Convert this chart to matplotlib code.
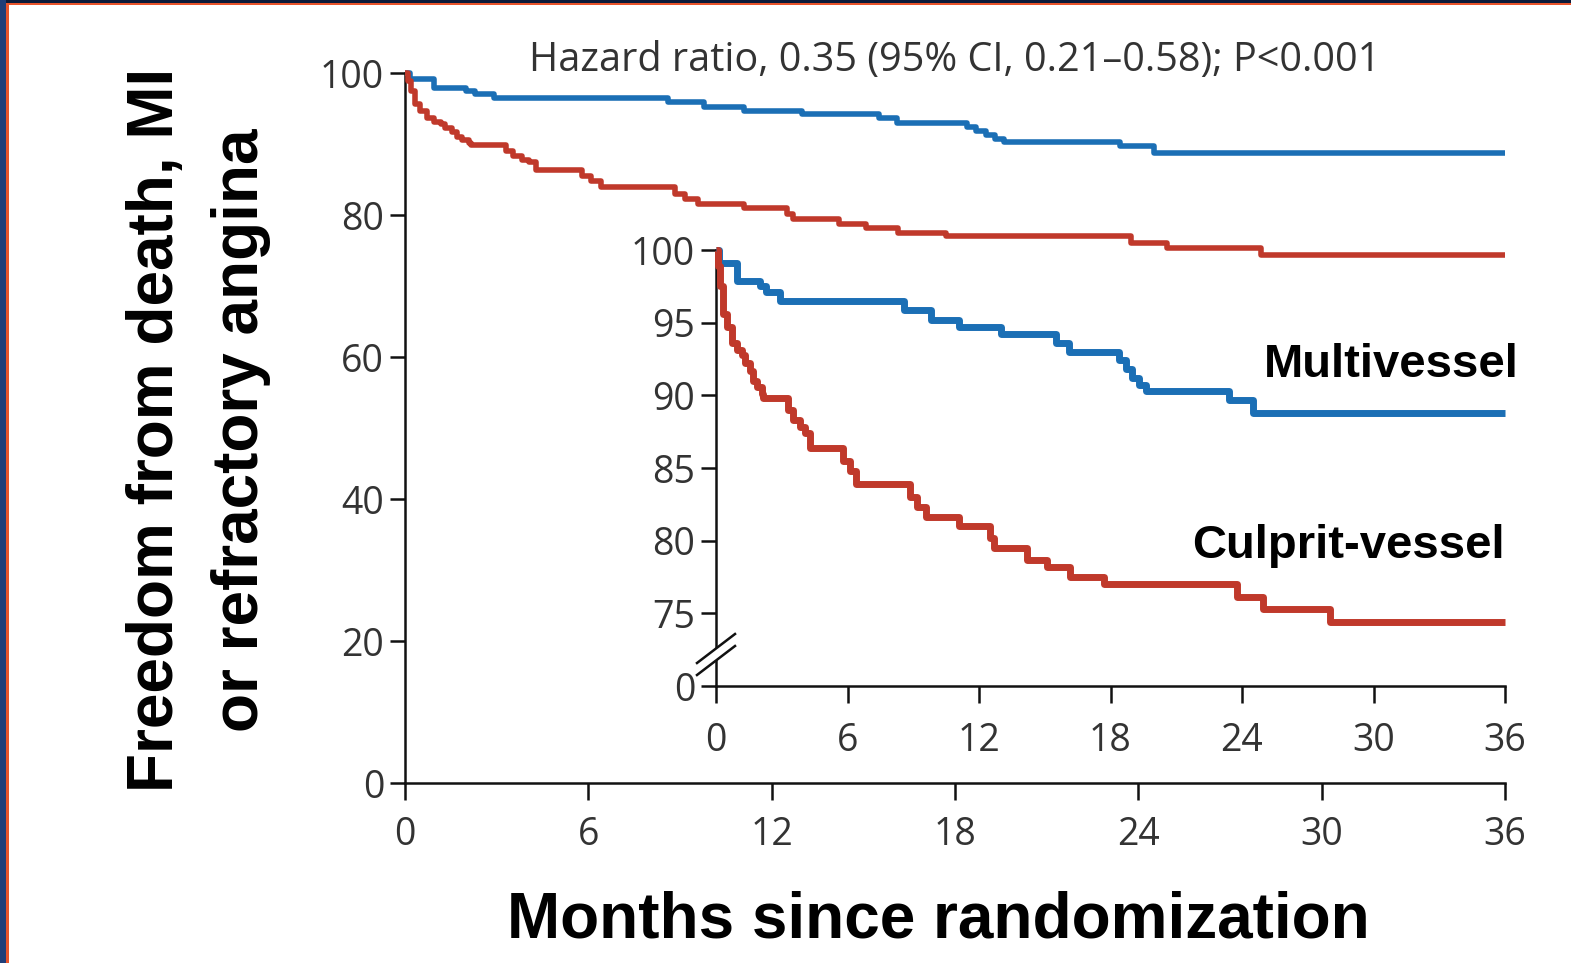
import matplotlib
matplotlib.use("Agg")
import matplotlib.pyplot as plt
from matplotlib.patches import Rectangle, Polygon

# ---------------- data ----------------
months_multi = [0, 0.15, 0.95, 2.0, 2.3, 2.9, 8.6, 9.8, 11.1, 13.0, 15.5, 16.1,
                18.4, 18.7, 19.0, 19.3, 19.6, 23.4, 24.5, 36]
surv_multi = [100, 99.1, 97.9, 97.5, 97.1, 96.5, 95.9, 95.2, 94.7, 94.2, 93.6, 93.0,
              92.4, 91.8, 91.2, 90.7, 90.3, 89.7, 88.8, 88.8]

months_culprit = [0, 0.1, 0.18, 0.33, 0.49, 0.72, 0.94, 1.17, 1.32, 1.55, 1.7, 1.86,
                  2.08, 2.16, 3.3, 3.53, 3.83, 4.06, 4.29, 5.8, 6.1, 6.4, 8.85, 9.15,
                  9.6, 11.1, 12.5, 12.7, 14.2, 15.1, 16.15, 17.7, 23.75, 24.95, 28.0, 36]
surv_culprit = [100, 98.9, 97.5, 95.6, 94.7, 93.6, 93.1, 92.8, 92.2, 91.7, 91.0, 90.6,
                90.1, 89.8, 89.0, 88.3, 87.8, 87.4, 86.4, 85.5, 84.8, 83.9, 83.0, 82.3,
                81.6, 81.0, 80.2, 79.5, 78.7, 78.2, 77.5, 77.0, 76.1, 75.3, 74.4, 74.4]

x_ticks = [0, 6, 12, 18, 24, 30, 36]
main_yticks = [0, 20, 40, 60, 80, 100]
inset_yticks = [70, 75, 80, 85, 90, 95, 100]
inset_yticklabels = ["0", "75", "80", "85", "90", "95", "100"]

series_labels = ["Multivessel", "Culprit-vessel"]
title_text = "Hazard ratio, 0.35 (95% CI, 0.21\u20130.58); P<0.001"
ylabel_lines = ["Freedom from death, MI", "or refractory angina"]
xlabel_text = "Months since randomization"

# ---------------- styling ----------------
BLUE = "#1b6fb5"
RED = "#c0392b"
TICKCOL = "#333333"
plt.rcParams["font.family"] = ["Open Sans", "DejaVu Sans"]
BOLD = ["Liberation Sans", "DejaVu Sans"]

W, H = 1571, 963
fig = plt.figure(figsize=(W / 100, H / 100), dpi=100)
fig.patch.set_facecolor("white")


def px_rect(x0, y0, x1, y1):
    return [x0 / W, 1 - y1 / H, (x1 - x0) / W, (y1 - y0) / H]


# slide frame (top and left edges)
fig.patches.append(Rectangle((0, 1 - 3 / H), 1, 3 / H, transform=fig.transFigure,
                             facecolor="#0c1b3a", edgecolor="none", zorder=0))
fig.patches.append(Rectangle((0, 1 - 5.5 / H), 1, 2.5 / H, transform=fig.transFigure,
                             facecolor="#e8542b", edgecolor="none", zorder=0))
fig.patches.append(Rectangle((0, 0), 6 / W, 1, transform=fig.transFigure,
                             facecolor="#203e78", edgecolor="none", zorder=0))
fig.patches.append(Rectangle((6 / W, 0), 2.5 / W, 1 - 3 / H, transform=fig.transFigure,
                             facecolor="#e8542b", edgecolor="none", zorder=0))

# ---------------- main axes ----------------
ax = fig.add_axes(px_rect(405, 73, 1505, 783))
ax.patch.set_alpha(0)
ax.step(months_multi, surv_multi, where="post", color=BLUE, lw=4.0,
        solid_capstyle="butt", clip_on=False, zorder=3)
ax.step(months_culprit, surv_culprit, where="post", color=RED, lw=4.0,
        solid_capstyle="butt", clip_on=False, zorder=3)
ax.set_xlim(0, 36)
ax.set_ylim(0, 100)
ax.set_xticks(x_ticks)
ax.set_yticks(main_yticks)
for s in ("top", "right"):
    ax.spines[s].set_visible(False)
for s in ("left", "bottom"):
    ax.spines[s].set_linewidth(1.8)
    ax.spines[s].set_color("#111111")
ax.tick_params(axis="y", length=11, width=1.8, labelsize=27, labelcolor=TICKCOL,
               pad=4, color="#111111")
ax.tick_params(axis="x", length=12, width=1.8, labelsize=27, labelcolor=TICKCOL,
               pad=12, color="#111111")

# ---------------- inset axes ----------------
ax2 = fig.add_axes(px_rect(716, 250, 1505, 686))
ax2.patch.set_alpha(0)
ax2.step(months_multi, surv_multi, where="post", color=BLUE, lw=5.0,
         solid_capstyle="butt", clip_on=False, zorder=3)
ax2.step(months_culprit, surv_culprit, where="post", color=RED, lw=5.0,
         solid_capstyle="butt", clip_on=False, zorder=3)
ax2.set_xlim(0, 36)
ax2.set_ylim(70, 100)
ax2.set_xticks(x_ticks)
ax2.set_yticks(inset_yticks)
ax2.set_yticklabels(inset_yticklabels)
for s in ("top", "right"):
    ax2.spines[s].set_visible(False)
for s in ("left", "bottom"):
    ax2.spines[s].set_linewidth(1.8)
    ax2.spines[s].set_color("#111111")
ax2.tick_params(axis="y", length=11, width=1.8, labelsize=27, labelcolor=TICKCOL,
                pad=4, color="#111111")
ax2.tick_params(axis="x", length=12, width=1.8, labelsize=27, labelcolor=TICKCOL,
                pad=14, color="#111111")

# axis-break marks on the inset y axis
iw, ih = 789.0, 436.0
def ax2pt(px, py):
    return ((px - 716) / iw, (686 - py) / ih)

gap = Polygon([ax2pt(699, 662), ax2pt(733, 634), ax2pt(733, 646), ax2pt(699, 674)],
              closed=True, transform=ax2.transAxes, facecolor="white",
              edgecolor="none", clip_on=False, zorder=4)
ax2.add_patch(gap)
for (a, b) in [((697, 663), (735, 634)), ((697, 675), (735, 646))]:
    p0, p1 = ax2pt(*a), ax2pt(*b)
    ax2.plot([p0[0], p1[0]], [p0[1], p1[1]], transform=ax2.transAxes, color="#111111",
             lw=1.8, clip_on=False, zorder=5)

# ---------------- texts ----------------
fig.text(955 / W, 1 - 71 / H, title_text, ha="center", va="baseline",
         fontsize=28.5, color=TICKCOL)

fig.text(173 / W, 1 - 430 / H, ylabel_lines[0], rotation=90, rotation_mode="anchor",
         ha="center", va="baseline", fontsize=46, fontweight="bold", family=BOLD)
fig.text(258 / W, 1 - 430 / H, ylabel_lines[1], rotation=90, rotation_mode="anchor",
         ha="center", va="baseline", fontsize=46, fontweight="bold", family=BOLD)

fig.text(938 / W, 1 - 937 / H, xlabel_text, ha="center", va="baseline",
         fontsize=46, fontweight="bold", family=BOLD)

fig.text(1519 / W, 1 - 377 / H, series_labels[0], ha="right", va="baseline",
         fontsize=34, fontweight="bold", family=BOLD)
fig.text(1505 / W, 1 - 558 / H, series_labels[1], ha="right", va="baseline",
         fontsize=34, fontweight="bold", family=BOLD)

fig.savefig("out.png", dpi=100, facecolor="white")
